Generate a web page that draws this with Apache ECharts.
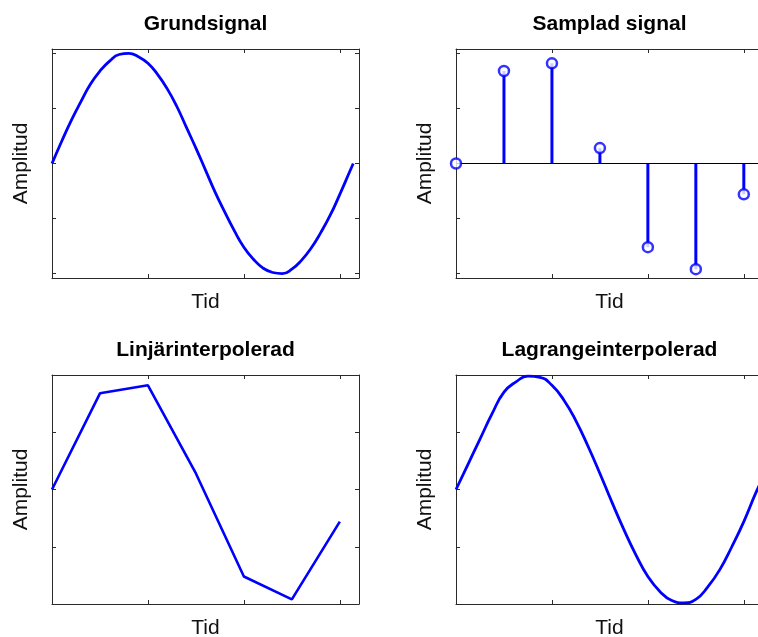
<!DOCTYPE html>
<html>
<head>
<meta charset="utf-8">
<script src="https://cdn.jsdelivr.net/npm/echarts@6/dist/echarts.min.js"></script>
<style>html,body{margin:0;padding:0;background:#fff;}#c{width:758px;height:637px;}</style>
</head>
<body>
<div id="c"></div>
<script>
// ---- data ----
const titles = ['Grundsignal', 'Samplad signal', 'Linjärinterpolerad', 'Lagrangeinterpolerad'];
const xName = 'Tid';
const yName = 'Amplitud';

// Grundsignal (continuous signal)
const sineX = [0,0.2,0.4,0.6,0.8,1.0,1.2,1.4,1.6,1.8,2.0,2.2,2.4,2.6,2.8,3.0,3.2,3.4,3.6,3.8,4.0,4.2,4.4,4.6,4.8,5.0,5.2,5.4,5.6,5.8,6.0,6.2,6.28];
const sineY = [0,0.20,0.39,0.56,0.72,0.84,0.93,0.99,1.00,0.97,0.91,0.81,0.68,0.52,0.33,0.14,-0.06,-0.26,-0.44,-0.61,-0.76,-0.87,-0.95,-0.99,-1.00,-0.96,-0.88,-0.77,-0.63,-0.47,-0.28,-0.08,0];

// Samplad signal / Linjärinterpolerad
const sampleN = [0,1,2,3,4,5,6];
const sampleY = [0,0.84,0.91,0.14,-0.76,-0.96,-0.28];

// Lagrangeinterpolerad
const lagrX = [0,0.25,0.5,0.75,1.0,1.25,1.5,1.75,2.0,2.25,2.5,2.75,3.0,3.25,3.5,3.75,4.0,4.25,4.5,4.75,5.0,5.25,5.5,5.75,6.0,6.25,6.4];
const lagrY = [0,0.22,0.44,0.66,0.85,0.94,0.99,0.98,0.91,0.78,0.60,0.38,0.14,-0.11,-0.35,-0.57,-0.76,-0.89,-0.97,-0.99,-0.96,-0.85,-0.70,-0.50,-0.28,-0.03,0.10];

const xTicks = [0,2,4,6];
const yTicksTop = [-1,-0.5,0,0.5,1];
const yTicksBottom = [-1,-0.5,0,0.5,1];
const xRange = [0, 6.4];
const yRangeTop = [-1.04, 1.04];
const yRangeBottom = [-1, 1];

// ---- layout ----
const BLUE = '#0000ff';
const AX = '#2a2a2a';
const FONT = '"Liberation Sans", Arial, sans-serif';
const grids = [
  {left: 52, top: 49, width: 307, height: 229, outerBoundsMode: 'none'},
  {left: 456, top: 49, width: 307, height: 229, outerBoundsMode: 'none'},
  {left: 52, top: 375, width: 307, height: 229, outerBoundsMode: 'none'},
  {left: 456, top: 375, width: 307, height: 229, outerBoundsMode: 'none'}
];

const zip = (a, b) => a.map((v, i) => [v, b[i]]);

const xAxes = [], yAxes = [], titleArr = [];
grids.forEach((g, i) => {
  const yr = i < 2 ? yRangeTop : yRangeBottom;
  const yt = i < 2 ? yTicksTop : yTicksBottom;
  ['bottom', 'top'].forEach((pos, k) => {
    xAxes.push({
      type: 'value', gridIndex: i, position: pos, min: xRange[0], max: xRange[1],
      axisLine: {show: true, onZero: false, lineStyle: {color: AX, width: 1}},
      axisTick: {show: true, inside: true, length: 4, customValues: xTicks, lineStyle: {color: AX}},
      axisLabel: {show: false, customValues: xTicks},
      splitLine: {show: false},
      name: k === 0 ? xName : '', nameLocation: 'middle', nameGap: 14,
      nameTextStyle: {fontFamily: FONT, fontSize: 21, color: '#111'}
    });
  });
  ['left', 'right'].forEach((pos, k) => {
    yAxes.push({
      type: 'value', gridIndex: i, position: pos, min: yr[0], max: yr[1],
      axisLine: {show: true, onZero: false, lineStyle: {color: AX, width: 1}},
      axisTick: {show: true, inside: true, length: 4, customValues: yt, lineStyle: {color: AX}},
      axisLabel: {show: false, customValues: yt},
      splitLine: {show: false},
      name: k === 0 ? yName : '', nameLocation: 'middle', nameGap: 20, nameRotate: 90,
      nameTextStyle: {fontFamily: FONT, fontSize: 21, color: '#111'}
    });
  });
  titleArr.push({
    text: titles[i], left: g.left + g.width / 2 - 5, top: i < 2 ? 9 : 335,
    textAlign: 'center',
    textStyle: {fontFamily: FONT, fontWeight: 'bold', fontSize: 21, color: '#000'}
  });
});

const option = {
  animation: false,
  backgroundColor: '#fff',
  title: titleArr,
  grid: grids,
  xAxis: xAxes,
  yAxis: yAxes,
  series: [
    {type: 'line', xAxisIndex: 0, yAxisIndex: 0, data: zip(sineX, sineY), smooth: true,
     showSymbol: false, lineStyle: {color: BLUE, width: 2.8}},
    {type: 'bar', xAxisIndex: 2, yAxisIndex: 2, data: zip(sampleN, sampleY), barWidth: 3,
     itemStyle: {color: BLUE},
     markLine: {silent: true, symbol: 'none', label: {show: false},
       lineStyle: {color: '#000', width: 1, type: 'solid'}, data: [{yAxis: 0}]}},
    {type: 'scatter', xAxisIndex: 2, yAxisIndex: 2, data: zip(sampleN, sampleY), symbol: 'circle',
     symbolSize: 10, z: 5, itemStyle: {color: '#fff', borderColor: BLUE, borderWidth: 2.5}},
    {type: 'line', xAxisIndex: 4, yAxisIndex: 4, data: zip(sampleN, sampleY), smooth: false,
     showSymbol: false, lineStyle: {color: BLUE, width: 2.6}},
    {type: 'line', xAxisIndex: 6, yAxisIndex: 6, data: zip(lagrX, lagrY), smooth: true,
     showSymbol: false, lineStyle: {color: BLUE, width: 2.8}}
  ]
};

const chart = echarts.init(document.getElementById('c'), null, {renderer: 'canvas'});
chart.setOption(option);
</script>
</body>
</html>
